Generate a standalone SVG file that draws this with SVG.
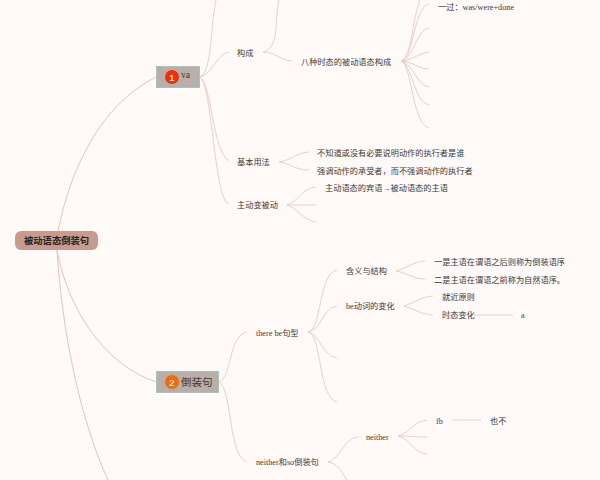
<svg xmlns="http://www.w3.org/2000/svg" width="600" height="480" viewBox="0 0 600 480">
<style>
.c{fill:none;stroke:#e9cfc8;stroke-width:1}
.c0{fill:none;stroke:#e3c4bb;stroke-width:1}
text{font-family:"Liberation Serif","Noto Sans CJK SC",serif;font-size:8.2px;fill:#3a3a3a}
.s{font-family:"Noto Sans CJK SC","Liberation Sans",sans-serif}
.t{font-size:10.500px}
.n{font-size:9.500px;fill:#fff;font-family:"Liberation Sans",sans-serif;text-anchor:middle}
.b{fill:#b9aea8;stroke:#a6c4b8;stroke-width:1}
</style>
<rect width="600" height="480" fill="#fff9f7"/>
<g id="connectors">
<path class="c0" d="M58 231C70 170 100 105 156 77"/>
<path class="c0" d="M57 250C68 310 105 365 156 382"/>
<path class="c0" d="M57 250C62 330 80 420 108 480"/>
<path class="c" d="M200 77C212 72 210 30 216 0"/>
<path class="c" d="M200 77C214 73 216 54 229 52"/>
<path class="c" d="M200 77C212 85 212 150 229 161"/>
<path class="c" d="M200 77C212 85 214 195 228 204"/>
<path class="c" d="M263 52C280 48 274 20 279 0"/>
<path class="c" d="M263 52C275 52 280 60 292 61"/>
<path class="c" d="M401 61C412 58 412 20 420 0"/>
<path class="c" d="M401 61C414 58 414 6 429 4"/>
<path class="c" d="M401 61C414 58 416 30 429 28"/>
<path class="c" d="M401 61C414 60 418 53 429 52"/>
<path class="c" d="M401 61C414 62 418 69 429 69"/>
<path class="c" d="M401 61C414 64 416 85 429 87"/>
<path class="c" d="M401 61C412 64 414 102 429 105"/>
<path class="c" d="M401 61C412 64 412 124 429 128"/>
<path class="c" d="M279 162C292 160 295 153 309 152"/>
<path class="c" d="M279 162C292 164 295 170 309 170"/>
<path class="c" d="M287 205C298 202 302 188 316 187"/>
<path class="c" d="M287 205H316"/>
<path class="c" d="M287 205C298 208 302 220 316 222"/>
<path class="c" d="M219 382C232 378 228 336 247 332"/>
<path class="c" d="M219 382C232 388 228 456 247 462"/>
<path class="c" d="M308 332C322 330 318 274 337 270"/>
<path class="c" d="M308 332C322 330 322 308 337 306"/>
<path class="c" d="M308 332C320 334 322 356 337 358"/>
<path class="c" d="M308 332C322 334 318 398 337 402"/>
<path class="c" d="M396 271C408 268 412 262 425 261"/>
<path class="c" d="M396 271C408 273 412 279 425 279"/>
<path class="c" d="M404 306C414 303 420 297 433 296"/>
<path class="c" d="M404 306C414 309 420 314 433 315"/>
<path class="c" d="M474 315H513"/>
<path class="c" d="M328 462C340 460 343 438 358 437"/>
<path class="c" d="M328 462C340 464 342 474 347 480"/>
<path class="c" d="M398 436C410 433 414 421 427 420"/>
<path class="c" d="M398 436C410 436 414 437 427 437"/>
<path class="c" d="M398 436C410 439 414 453 427 454"/>
<path class="c" d="M452 420H481"/>
</g>
<g id="root"><rect x="15" y="231" width="83" height="19" rx="6" fill="#c79b8e"/><text class="s" x="24" y="244" style="font-size:9.300px;font-weight:700;fill:#222">被动语态倒装句</text></g>
<g id="n1"><rect class="b" x="156.500" y="66.500" width="43" height="21"/><circle cx="172" cy="77" r="7" fill="#e8320e"/><text class="n" x="172" y="80.500">1</text><text x="181" y="78" style="font-size:9.500px">va</text></g>
<g id="n2"><rect class="b" x="156.500" y="371.500" width="62" height="21"/><circle cx="172" cy="382" r="7" fill="#ee6c10"/><text class="n" x="172" y="385.500">2</text><text class="s t" x="181" y="386">倒装句</text></g>
<g id="goucheng"><text class="s" x="237" y="56">构成</text></g>
<g id="bashi"><text class="s" x="301" y="65">八种时态的被动语态构成</text></g>
<g id="yiguo"><text class="s" x="438" y="9.500">一过：<tspan style="font-family:'Liberation Serif'">was/were+done</tspan></text></g>
<g id="jiben"><text class="s" x="237" y="165">基本用法</text></g>
<g id="b1"><text class="s" x="317" y="156">不知道或没有必要说明动作的执行者是谁</text></g>
<g id="b2"><text class="s" x="317" y="174">强调动作的承受者，而不强调动作的执行者</text></g>
<g id="zhudong"><text class="s" x="237" y="208">主动变被动</text></g>
<g id="z1"><text class="s" x="325" y="191">主动语态的宾语<tspan style="font-family:'Liberation Serif'">→</tspan>被动语态的主语</text></g>
<g id="there"><text x="256" y="336">there be<tspan class="s">句型</tspan></text></g>
<g id="hanyi"><text class="s" x="346" y="274">含义与结构</text></g>
<g id="h1"><text class="s" x="434" y="265">一是主语在谓语之后则称为倒装语序</text></g>
<g id="h2"><text class="s" x="434" y="283">二是主语在谓语之前称为自然语序。</text></g>
<g id="be"><text x="346" y="309">be<tspan class="s">动词的变化</tspan></text></g>
<g id="jj"><text class="s" x="442" y="300">就近原则</text></g>
<g id="st"><text class="s" x="442" y="318">时态变化</text></g>
<g id="a"><text x="521" y="318">a</text></g>
<g id="neitherso"><text x="256" y="465">neither<tspan class="s">和</tspan>so<tspan class="s">倒装句</tspan></text></g>
<g id="neither"><text x="366" y="440">neither</text></g>
<g id="fb"><text x="436" y="424">fb</text></g>
<g id="ye"><text class="s" x="490" y="424">也不</text></g>
</svg>
